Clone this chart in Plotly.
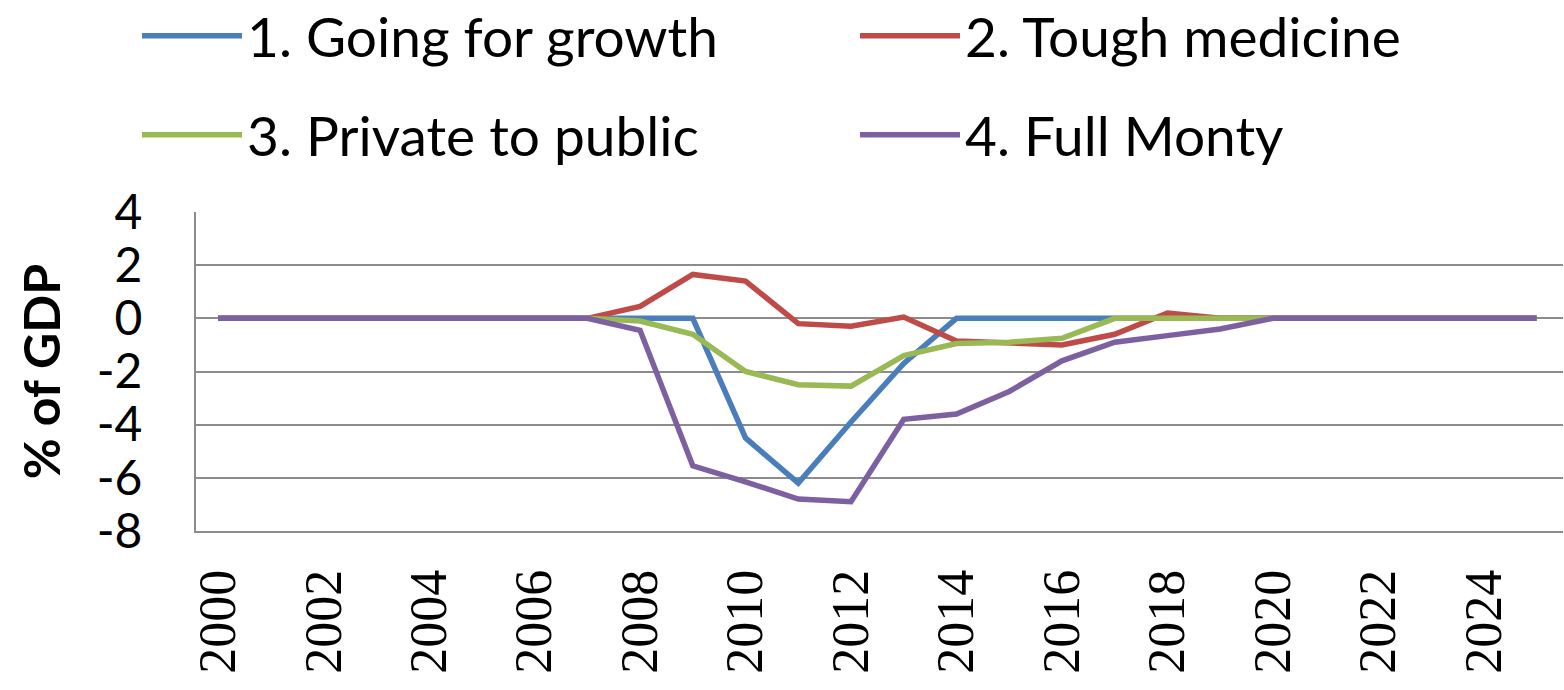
import plotly.graph_objects as go

years = list(range(2000, 2026))
going_for_growth = [0, 0, 0, 0, 0, 0, 0, 0, 0, 0, -4.5, -6.2, -3.9, -1.7, 0, 0, 0, 0, 0, 0, 0, 0, 0, 0, 0, 0]
tough_medicine = [0, 0, 0, 0, 0, 0, 0, 0, 0.45, 1.65, 1.4, -0.2, -0.3, 0.05, -0.85, -0.95, -1.0, -0.6, 0.2, 0, 0, 0, 0, 0, 0, 0]
private_to_public = [0, 0, 0, 0, 0, 0, 0, 0, -0.1, -0.6, -2.0, -2.5, -2.55, -1.4, -0.95, -0.9, -0.75, 0, 0, 0, 0, 0, 0, 0, 0, 0]
full_monty = [0, 0, 0, 0, 0, 0, 0, 0, -0.45, -5.55, -6.15, -6.8, -6.9, -3.8, -3.6, -2.75, -1.6, -0.9, -0.65, -0.4, 0, 0, 0, 0, 0, 0]

names = ["1. Going for growth", "2. Tough medicine", "3. Private to public", "4. Full Monty"]
colors = ["#4A7EBB", "#BE4B48", "#98B954", "#7D60A0"]
series = [going_for_growth, tough_medicine, private_to_public, full_monty]
legend_ids = ["legend", "legend2", "legend3", "legend4"]

fig = go.Figure()
for name, color, vals, lg in zip(names, colors, series, legend_ids):
    fig.add_trace(go.Scatter(x=years, y=vals, name=name, mode="lines", showlegend=True,
                             line=dict(color=color, width=5.5), legend=lg))

W, H = 1564, 690
ml, mr, mt, mb = 196, 1, 212, 159

legend_font = dict(family="Lato, Carlito, sans-serif", size=55, color="#000000")


def legend_at(px, py):
    return dict(orientation="h", font=legend_font, xref="container", yref="container",
                x=px / W, y=1 - py / H, xanchor="left", yanchor="middle",
                itemwidth=100, bgcolor="rgba(0,0,0,0)")


fig.update_layout(
    width=W, height=H,
    margin=dict(l=ml, r=mr, t=mt, b=mb),
    paper_bgcolor="white", plot_bgcolor="white",
    showlegend=True,
    legend=legend_at(137, 36),
    legend2=legend_at(855, 36),
    legend3=legend_at(137, 135),
    legend4=legend_at(855, 135),
    xaxis=dict(
        range=[1999.58, 2025.5],
        tickmode="array", tickvals=list(range(2000, 2026, 2)),
        ticktext=[str(y) for y in range(2000, 2026, 2)],
        tickangle=-90,
        tickfont=dict(family="Liberation Serif, Times New Roman, serif", size=52, color="#000000"),
        showgrid=False, zeroline=False,
        showline=True, linecolor="#8C8C8C", linewidth=2,
        ticks="", ticklabelstandoff=16,
    ),
    yaxis=dict(
        range=[-8, 4], tickmode="array", tickvals=[-8, -6, -4, -2, 0, 2, 4],
        ticktext=["-8", "-6", "-4", "-2", "0", "2", "4"],
        tickfont=dict(family="Lato, Carlito, sans-serif", size=48, color="#000000"),
        showgrid=True, gridcolor="#8C8C8C", gridwidth=2,
        zeroline=False,
        showline=True, linecolor="#8C8C8C", linewidth=2,
        ticks="", ticklabelstandoff=42,
        title=dict(text="<b>% of GDP</b>", standoff=20,
                   font=dict(family="Lato, Carlito, sans-serif", size=50, color="#000000")),
    ),
)

fig.write_html("out.html")
